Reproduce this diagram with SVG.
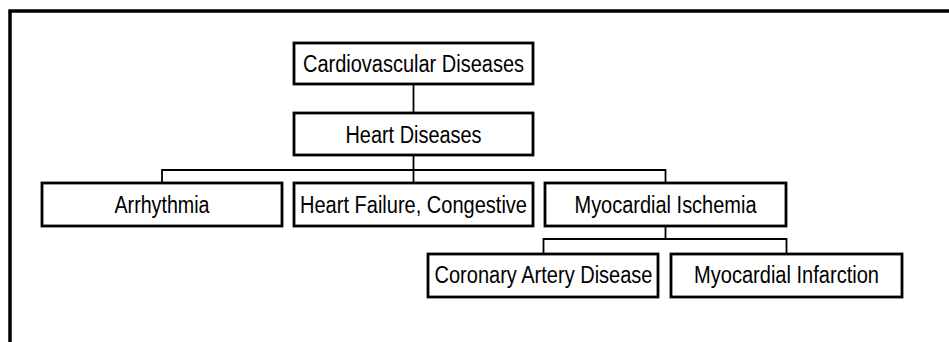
<svg xmlns="http://www.w3.org/2000/svg" width="949" height="342" viewBox="0 0 949 342">
<style>
.box{fill:#fff;stroke:#000;stroke-width:2.8}
.lbl{font-family:"Liberation Sans",Arial,sans-serif;font-size:23px;fill:#000;text-anchor:middle}
.conn{fill:none;stroke:#000;stroke-width:1.8}
.frame{fill:none;stroke:#000;stroke-width:3.5}
</style>
<rect width="949" height="342" fill="#fff"/>
<path class="frame" d="M10,350 V11 H960"/>
<g id="connectors">
<path class="conn" d="M413.5,84 V113"/>
<path class="conn" d="M413.5,155 V183"/>
<path class="conn" d="M162,183 V170 H665.5 V183"/>
<path class="conn" d="M665.5,226 V239"/>
<path class="conn" d="M543.5,254 V239 H786.5 V254"/>
</g>
<g id="cardiovascular-diseases">
<rect class="box" x="294" y="43" width="239" height="41"/>
<text class="lbl" x="413.5" y="72" textLength="221" lengthAdjust="spacingAndGlyphs">Cardiovascular Diseases</text>
</g>
<g id="heart-diseases">
<rect class="box" x="294" y="113" width="239" height="42"/>
<text class="lbl" x="413.5" y="142.5" textLength="136" lengthAdjust="spacingAndGlyphs">Heart Diseases</text>
</g>
<g id="arrhythmia">
<rect class="box" x="42" y="183" width="240" height="43"/>
<text class="lbl" x="162" y="213" textLength="95" lengthAdjust="spacingAndGlyphs">Arrhythmia</text>
</g>
<g id="heart-failure">
<rect class="box" x="294" y="183" width="239" height="43"/>
<text class="lbl" x="413.5" y="213" textLength="227" lengthAdjust="spacingAndGlyphs">Heart Failure, Congestive</text>
</g>
<g id="myocardial-ischemia">
<rect class="box" x="545" y="183" width="241" height="43"/>
<text class="lbl" x="665.5" y="213" textLength="182" lengthAdjust="spacingAndGlyphs">Myocardial Ischemia</text>
</g>
<g id="coronary-artery-disease">
<rect class="box" x="428" y="254" width="230" height="43"/>
<text class="lbl" x="543.5" y="283" textLength="218" lengthAdjust="spacingAndGlyphs">Coronary Artery Disease</text>
</g>
<g id="myocardial-infarction">
<rect class="box" x="671" y="254" width="231" height="43"/>
<text class="lbl" x="786.5" y="283" textLength="185" lengthAdjust="spacingAndGlyphs">Myocardial Infarction</text>
</g>
</svg>
